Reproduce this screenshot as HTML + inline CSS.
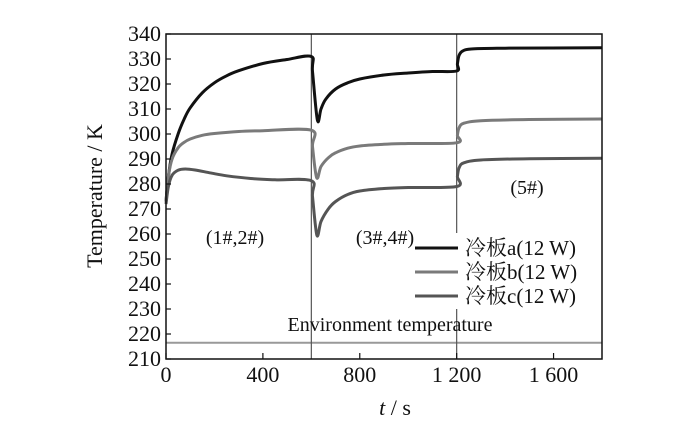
<!DOCTYPE html>
<html><head><meta charset="utf-8"><style>
body{margin:0;background:#fff;}
svg text{font-family:"Liberation Serif","Noto Serif CJK SC",serif;fill:#111;}
</style></head><body>
<svg width="700" height="423" viewBox="0 0 700 423">
<g id="plot"></g>
</svg>
<script>
const xTicks=[0,400,800,1200,1600];
const xTickLabels=["0","400","800","1 200","1 600"];
const yTicks=[210,220,230,240,250,260,270,280,290,300,310,320,330,340];
const tA=[0,10,25,50,75,100,150,200,250,300,400,500,600,605,625,640,660,700,750,800,900,1000,1100,1200,1203,1210,1225,1260,1400,1800];
const vA=[273,283,292,300,306,310.5,316.5,320.5,323.3,325.3,328.2,329.8,331,325,305.5,310,314,318,320.5,322,323.6,324.4,325,325.2,328,331.5,333.2,334,334.3,334.5];
const tB=[0,10,25,50,75,100,150,200,300,400,600,605,622,640,670,700,750,800,900,1000,1200,1203,1210,1230,1300,1500,1800];
const vB=[273,283,290,294.5,296.7,298,299.5,300.2,301,301.3,301.5,295,282.5,287,290.5,292.5,294.3,295.2,295.9,296.2,296.5,299.5,302.5,304.3,305.3,305.8,306];
const tC=[0,10,25,50,80,120,180,250,350,450,600,605,623,640,670,700,750,800,900,1000,1200,1203,1210,1230,1300,1500,1800];
const vC=[272,279,283.5,285.5,286,285.6,284.5,283.3,282.2,281.7,281.3,275,259.5,265,270,273,275.8,277.2,278.2,278.6,279,283,286.5,288.5,289.6,290.1,290.3];
const envTemp=216.5;
const NS="http://www.w3.org/2000/svg";
const L=166,R=602,T=34,B=359;
const X=t=>L+(t/1800)*(R-L);
const Y=v=>B-(v-210)/130*(B-T);
const g=document.getElementById('plot');
function mk(tag,attrs,txt){const e=document.createElementNS(NS,tag);for(const k in attrs)e.setAttribute(k,attrs[k]);if(txt!==undefined)e.textContent=txt;g.appendChild(e);return e;}
function smooth(ts,vs){
  const P=ts.map((t,i)=>[X(t),Y(vs[i])]);
  let d='M'+P[0][0].toFixed(1)+','+P[0][1].toFixed(1);
  for(let i=0;i<P.length-1;i++){
    const p0=P[Math.max(0,i-1)],p1=P[i],p2=P[i+1],p3=P[Math.min(P.length-1,i+2)];
    const k=1/6;
    const c1=[p1[0]+(p2[0]-p0[0])*k,p1[1]+(p2[1]-p0[1])*k];
    const c2=[p2[0]-(p3[0]-p1[0])*k,p2[1]-(p3[1]-p1[1])*k];
    d+=' C'+c1.map(n=>n.toFixed(1)).join(',')+' '+c2.map(n=>n.toFixed(1)).join(',')+' '+p2.map(n=>n.toFixed(1)).join(',');
  }
  return d;
}
let e=mk('line',{x1:L,x2:R,y1:Y(envTemp),y2:Y(envTemp),stroke:'#999','stroke-width':2});


[600,1200].forEach(t=>{const s=mk('line',{x1:X(t),x2:X(t),y1:T,y2:B,stroke:'#555','stroke-width':1.2});

});
e=mk('rect',{x:410,y:233,width:190,height:76,fill:'#fff'});


const series=[[tA,vA,'#111','curve-a'],[tB,vB,'#7a7a7a','curve-b'],[tC,vC,'#555','curve-c']];
series.forEach(([ts,vs,c,n])=>{
const p=mk('path',{d:smooth(ts,vs),fill:'none',stroke:c,'stroke-width':3,'stroke-linejoin':'round'});

});
e=mk('rect',{x:L,y:T,width:R-L,height:B-T,fill:'none',stroke:'#111','stroke-width':1.5});


yTicks.forEach(v=>{mk('line',{x1:L,x2:L+5,y1:Y(v),y2:Y(v),stroke:'#111','stroke-width':1.2});
const t=mk('text',{x:L-5,y:Y(v)+7,'text-anchor':'end','font-size':22},String(v));

});
xTicks.forEach((v,i)=>{mk('line',{x1:X(v),x2:X(v),y1:B,y2:B-6,stroke:'#111','stroke-width':1.2});
const t=mk('text',{x:X(v),y:B+23,'text-anchor':'middle','font-size':22},xTickLabels[i]);

});
const leg=[['冷板a(12 W)','#111',248],['冷板b(12 W)','#7a7a7a',272],['冷板c(12 W)','#555',296]];
leg.forEach(([s,c,y])=>{mk('line',{x1:415,x2:458,y1:y,y2:y,stroke:c,'stroke-width':3});
const t=mk('text',{x:465,y:y+7,'font-size':21},s);

});
</script>
<svg style="position:absolute;left:0;top:0" width="700" height="423">
<text x="235" y="244" text-anchor="middle" font-size="20">(1#,2#)</text>
<text x="385" y="244" text-anchor="middle" font-size="20">(3#,4#)</text>
<text x="527" y="194" text-anchor="middle" font-size="20">(5#)</text>
<text x="390" y="331" text-anchor="middle" font-size="20">Environment temperature</text>
<text x="395" y="415" text-anchor="middle" font-size="22"><tspan font-style="italic">t</tspan> / s</text>
<text transform="translate(102,196) rotate(-90)" text-anchor="middle" font-size="22">Temperature / K</text>
</svg>
</body></html>
